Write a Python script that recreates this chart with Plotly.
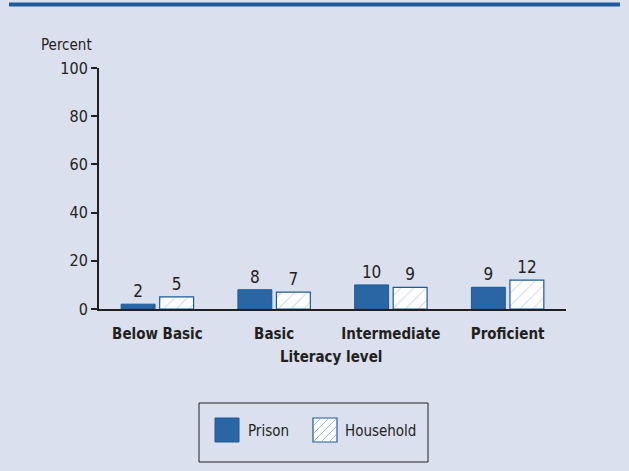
import plotly.graph_objects as go

# Literacy level distribution, prison vs household population
categories = ["Below Basic", "Basic", "Intermediate", "Proficient"]
prison = [2, 8, 10, 9]
household = [5, 7, 9, 12]
y_ticks = [0, 20, 40, 60, 80, 100]

W, H = 629, 471
ML, MR, MT, MB = 99, 63, 68, 162
PW, PH = W - ML - MR, H - MT - MB

BG = "#dae0ee"
DARK = "#231f20"
BLUE = "#2a66a3"
EDGE = "#1d5a98"
HATCH = "#9db5d9"
FONT = "Liberation Sans Narrow, Arial Narrow, DejaVu Sans Condensed, sans-serif"


def px_x(x):
    return (x - ML) / PW


def px_y(y):
    return (H - MB - y) / PH


fig = go.Figure()
fig.add_trace(go.Bar(
    x=categories, y=prison, name="Prison",
    marker=dict(color=BLUE, line=dict(color=EDGE, width=1)),
    text=[str(v) for v in prison], textposition="outside",
    textfont=dict(size=17, color=DARK, family=FONT),
    cliponaxis=False, showlegend=False,
))
fig.add_trace(go.Bar(
    x=categories, y=household, name="Household",
    marker=dict(color="white", line=dict(color=EDGE, width=1.2),
                pattern=dict(shape="/", fgcolor=HATCH, bgcolor="white",
                             size=9, solidity=0.12)),
    text=[str(v) for v in household], textposition="outside",
    textfont=dict(size=17, color=DARK, family=FONT),
    cliponaxis=False, showlegend=False,
))

shapes = [
    # top rule
    dict(type="line", xref="paper", yref="paper",
         x0=px_x(9), x1=px_x(620), y0=px_y(4.5), y1=px_y(4.5),
         line=dict(color="#1e5b9b", width=4)),
    # legend frame
    dict(type="rect", xref="paper", yref="paper",
         x0=px_x(199), x1=px_x(428), y0=px_y(403), y1=px_y(462),
         line=dict(color=DARK, width=1), fillcolor="rgba(0,0,0,0)"),
    # legend swatch: Prison
    dict(type="rect", xref="paper", yref="paper",
         x0=px_x(215), x1=px_x(239), y0=px_y(418), y1=px_y(442),
         line=dict(color=EDGE, width=1), fillcolor=BLUE),
    # legend swatch: Household
    dict(type="rect", xref="paper", yref="paper",
         x0=px_x(313), x1=px_x(337), y0=px_y(418), y1=px_y(442),
         line=dict(color=EDGE, width=1.2), fillcolor="white"),
]
# hatch lines inside the Household swatch
sx0, sy0, s = 313, 418, 24
for off in (-16, -8, 0, 8, 16):
    pts = []
    for t in range(0, s + 1):
        x = sx0 + t
        y = sy0 + s - t + off
        if sy0 <= y <= sy0 + s:
            pts.append((x, y))
    if len(pts) > 1:
        (ax, ay), (bx, by) = pts[0], pts[-1]
        shapes.append(dict(type="line", xref="paper", yref="paper",
                           x0=px_x(ax + 0.8), y0=px_y(ay - 0.8),
                           x1=px_x(bx - 0.8), y1=px_y(by + 0.8),
                           line=dict(color=HATCH, width=1)))

annotations = [
    dict(text="Percent", xref="paper", yref="paper", x=px_x(94), y=px_y(45),
         xanchor="right", yanchor="middle", showarrow=False,
         font=dict(size=15, color=DARK, family=FONT)),
    dict(text="<b>Literacy level</b>", xref="paper", yref="paper",
         x=px_x(331), y=px_y(357), xanchor="center", yanchor="middle",
         showarrow=False, font=dict(size=15, color=DARK, family=FONT)),
    dict(text="Prison", xref="paper", yref="paper", x=px_x(246), y=px_y(431),
         xanchor="left", yanchor="middle", showarrow=False,
         font=dict(size=15, color=DARK, family=FONT)),
    dict(text="Household", xref="paper", yref="paper", x=px_x(343), y=px_y(431),
         xanchor="left", yanchor="middle", showarrow=False,
         font=dict(size=15, color=DARK, family=FONT)),
]

fig.update_layout(
    width=W, height=H,
    margin=dict(l=ML, r=MR, t=MT, b=MB),
    paper_bgcolor=BG, plot_bgcolor=BG,
    barmode="group", bargap=0.34, bargroupgap=0.12,
    showlegend=False,
    shapes=shapes, annotations=annotations,
    font=dict(family=FONT, color=DARK, size=15),
    xaxis=dict(
        range=[-0.5, 3.5], showgrid=False, zeroline=False,
        showline=True, linecolor=DARK, linewidth=2,
        ticks="", ticklabelstandoff=10,
        tickfont=dict(size=15, color=DARK, family=FONT),
        tickvals=categories,
        ticktext=["<b>%s</b>" % c for c in categories],
    ),
    yaxis=dict(
        range=[0, 100], tickvals=y_ticks, showgrid=False, zeroline=False,
        showline=True, linecolor=DARK, linewidth=2,
        ticks="outside", ticklen=6, tickwidth=1.5, tickcolor=DARK,
        tickfont=dict(size=16, color=DARK, family=FONT),
    ),
)

fig.write_html("out.html")
